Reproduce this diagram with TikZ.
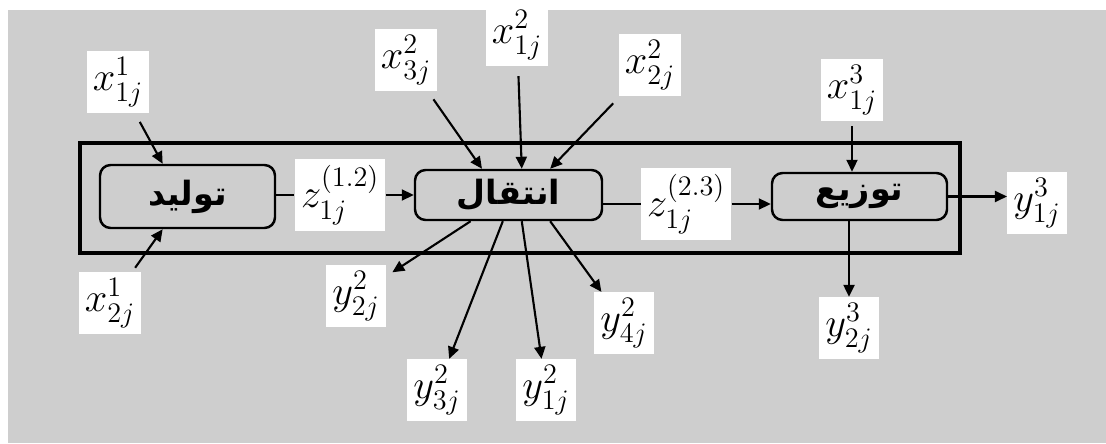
\RequirePackage{fix-cm}
\documentclass[tikz,border=0pt]{standalone}
\usepackage{amsmath}
\usepackage{fontspec}
\newfontfamily\arabicfont[Script=Arabic]{DejaVu Sans}
\TeXXeTstate=1
\usetikzlibrary{arrows.meta,positioning,calc}
\definecolor{bggray}{RGB}{206,206,206}

\tikzset{
    stage/.style={draw, line width=1.4pt, rounded corners=6pt, inner sep=0pt,
        font=\arabicfont\bfseries\fontsize{19}{22}\selectfont},
    var/.style={fill=white, inner sep=3.5pt, font=\fontsize{23}{27}\selectfont},
    flow/.style={-{Triangle[length=0.24cm,width=0.22cm]}, line width=1.2pt},
}

\begin{document}
\begin{tikzpicture}
    %\draw[step=1,help lines] (0,0) grid (22,9);
    \useasboundingbox (0,0) rectangle (22.12,8.86);
    \fill[bggray] (0.16,0) rectangle (22.12,8.66);

    \draw[line width=2.2pt] (1.6,3.8) rectangle (19.2,6.0);

    \node[stage, minimum width=3.5cm, minimum height=1.26cm] (tolid) at (3.75,4.93) {\beginR تولید\endR};
    \node[stage, minimum width=3.74cm, minimum height=1.0cm] (enteghal) at (10.17,4.96) {\beginR انتقال\endR};
    \node[stage, minimum width=3.5cm, minimum height=0.94cm] (tozi) at (17.19,4.93) {\beginR توزیع\endR};

    \node[var] (x11) at (2.36,7.22) {$x^1_{1j}$};
    \node[var] (x12) at (2.2,2.8) {$x^1_{2j}$};
    \node[var] (z12) at (6.8,4.96) {$z^{(1.2)}_{1j}$};
    \node[var] (x23) at (8.12,7.66) {$x^2_{3j}$};
    \node[var] (x21) at (10.34,8.16) {$x^2_{1j}$};
    \node[var] (x22) at (13.0,7.56) {$x^2_{2j}$};
    \node[var] (z23) at (13.72,4.78) {$z^{(2.3)}_{1j}$};
    \node[var] (y22) at (7.12,2.94) {$y^2_{2j}$};
    \node[var] (y23) at (8.74,1.06) {$y^2_{3j}$};
    \node[var] (y21) at (10.92,1.06) {$y^2_{1j}$};
    \node[var] (y24) at (12.48,2.4) {$y^2_{4j}$};
    \node[var] (x31) at (17.04,7.06) {$x^3_{1j}$};
    \node[var] (y31) at (20.74,4.8) {$y^3_{1j}$};
    \node[var] (y32) at (16.98,2.3) {$y^3_{2j}$};

    % inputs of the first stage
    \draw[flow, shorten <=0.2cm] (x11) to ($(tolid.north west)!0.36!(tolid.north east)$);
    \draw[flow, shorten <=0.1cm] (x12) to ($(tolid.south west)!0.36!(tolid.south east)$);

    \draw[line width=1.2pt] (tolid.east |- z12) to (z12);
    \draw[flow] (z12) to (enteghal.west |- z12);

    % second stage
    \draw[flow, shorten <=0.2cm] (x23) to ($(enteghal.north west)!0.36!(enteghal.north east)$);
    \draw[flow, shorten <=0.2cm] (x21) to ($(enteghal.north west)!0.57!(enteghal.north east)$);
    \draw[flow, shorten <=0.2cm] (x22) to ($(enteghal.north west)!0.72!(enteghal.north east)$);

    \draw[flow, shorten >=0.15cm] ($(enteghal.south west)!0.30!(enteghal.south east)$) to (y22);
    \draw[flow] ($(enteghal.south west)!0.47!(enteghal.south east)$) to (y23);
    \draw[flow] ($(enteghal.south west)!0.57!(enteghal.south east)$) to (y21);
    \draw[flow] ($(enteghal.south west)!0.72!(enteghal.south east)$) to (y24);

    \draw[line width=1.2pt] (enteghal.east |- z23) to (z23);
    \draw[flow] (z23) to (tozi.west |- z23);

    % last stage
    \draw[flow, shorten <=0.1cm] (x31) to (x31 |- tozi.north);
    \draw[flow] (tozi.east) to (tozi.east -| y31.west);
    \draw[flow] (tozi.south -| y32) to (y32);

\end{tikzpicture}
\end{document}
